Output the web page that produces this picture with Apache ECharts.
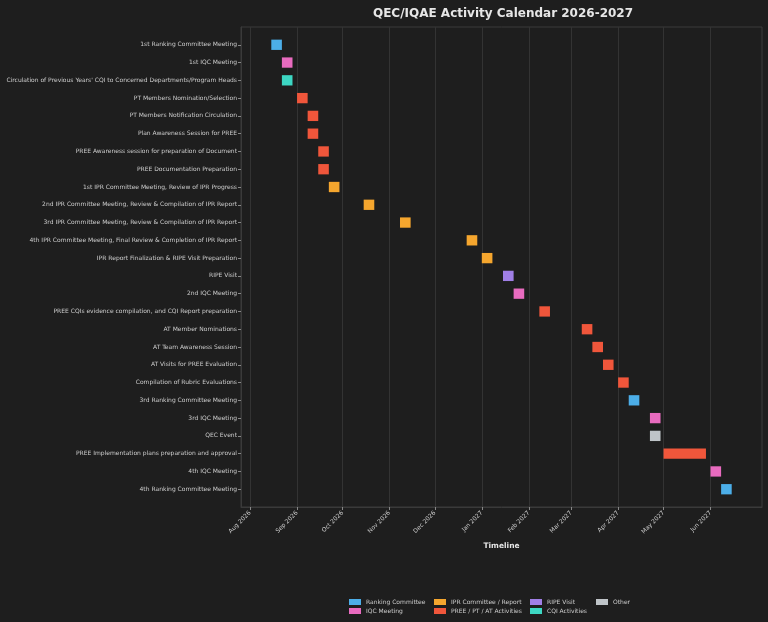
<!DOCTYPE html>
<html>
<head>
<meta charset="utf-8">
<script src="https://cdn.jsdelivr.net/npm/echarts@6/dist/echarts.min.js"></script>
<style>
  html, body { margin: 0; padding: 0; background: #1e1e1e; }
  #chart { width: 768px; height: 622px; }
</style>
</head>
<body>
<div id="chart"></div>
<script>
// activities, top to bottom
const activities = [
  '1st Ranking Committee Meeting',
  '1st IQC Meeting',
  "Circulation of Previous Years' CQI to Concerned Departments/Program Heads",
  'PT Members Nomination/Selection',
  'PT Members Notification Circulation',
  'Plan Awareness Session for PREE',
  'PREE Awareness session for preparation of Document',
  'PREE Documentation Preparation',
  '1st IPR Committee Meeting, Review of IPR Progress',
  '2nd IPR Committee Meeting, Review & Compilation of IPR Report',
  '3rd IPR Committee Meeting, Review & Compilation of IPR Report',
  '4th IPR Committee Meeting, Final Review & Completion of IPR Report',
  'IPR Report Finalization & RIPE Visit Preparation',
  'RIPE Visit',
  '2nd IQC Meeting',
  'PREE CQIs evidence compilation, and CQI Report preparation',
  'AT Member Nominations',
  'AT Team Awareness Session',
  'AT Visits for PREE Evaluation',
  'Compilation of Rubric Evaluations',
  '3rd Ranking Committee Meeting',
  '3rd IQC Meeting',
  'QEC Event',
  'PREE Implementation plans preparation and approval',
  '4th IQC Meeting',
  '4th Ranking Committee Meeting'
];
const startDates = [
  '2026-08-15', '2026-08-22', '2026-08-22', '2026-09-01', '2026-09-08',
  '2026-09-08', '2026-09-15', '2026-09-15', '2026-09-22', '2026-10-15',
  '2026-11-08', '2026-12-22', '2027-01-01', '2027-01-15', '2027-01-22',
  '2027-02-08', '2027-03-08', '2027-03-15', '2027-03-22', '2027-04-01',
  '2027-04-08', '2027-04-22', '2027-04-22', '2027-05-01', '2027-06-01',
  '2027-06-08'
];
const durations = [
  7, 7, 7, 7, 7, 7, 7, 7, 7, 7, 7, 7, 7, 7, 7, 7, 7, 7, 7, 7, 7, 7, 7, 28, 7, 7
];
const activityTypes = [
  'Ranking Committee', 'IQC Meeting', 'CQI Activities', 'PREE / PT / AT Activities',
  'PREE / PT / AT Activities', 'PREE / PT / AT Activities', 'PREE / PT / AT Activities',
  'PREE / PT / AT Activities', 'IPR Committee / Report', 'IPR Committee / Report',
  'IPR Committee / Report', 'IPR Committee / Report', 'IPR Committee / Report',
  'RIPE Visit', 'IQC Meeting', 'PREE / PT / AT Activities', 'PREE / PT / AT Activities',
  'PREE / PT / AT Activities', 'PREE / PT / AT Activities', 'PREE / PT / AT Activities',
  'Ranking Committee', 'IQC Meeting', 'Other', 'PREE / PT / AT Activities',
  'IQC Meeting', 'Ranking Committee'
];
const typeNames = [
  'Ranking Committee', 'IQC Meeting', 'IPR Committee / Report',
  'PREE / PT / AT Activities', 'RIPE Visit', 'CQI Activities', 'Other'
];
const typeColors = ['#4caee8', '#e86bbf', '#f5a62e', '#f0563b', '#a07fe6', '#3dd7c3', '#bfc4c8'];
const monthTicks = [
  '2026-08-01', '2026-09-01', '2026-10-01', '2026-11-01', '2026-12-01', '2027-01-01',
  '2027-02-01', '2027-03-01', '2027-04-01', '2027-05-01', '2027-06-01'
];
const axisMin = '2026-07-26';
const axisMax = '2027-07-05';

const DAY = 86400000;
const toTs = (s) => {
  const p = s.split('-').map(Number);
  return new Date(p[0], p[1] - 1, p[2]).getTime();
};
const MONTHS = ['Jan', 'Feb', 'Mar', 'Apr', 'May', 'Jun', 'Jul', 'Aug', 'Sep', 'Oct', 'Nov', 'Dec'];
const font = 'DejaVu Sans';
const tickTs = monthTicks.map(toTs);
const rowIdx = activities.map((a, i) => i);

let chart = echarts.init(document.getElementById('chart'));

const series = typeNames.map((name, t) => {
  const data = [];
  activities.forEach((a, i) => {
    if (activityTypes[i] !== name) return;
    const s = toTs(startDates[i]);
    data.push([s, s + durations[i] * DAY, i]);
  });
  return {
    name: name,
    type: 'custom',
    itemStyle: { color: typeColors[t] },
    encode: { x: [0, 1], y: 2 },
    renderItem: function(params, api) {
      const a = api.coord([api.value(0), api.value(2)]);
      const b = api.coord([api.value(1), api.value(2)]);
      const h = api.size([0, 0.58])[1];
      return {
        type: 'rect',
        shape: { x: a[0], y: a[1] - h / 2, width: b[0] - a[0], height: h },
        style: api.style()
      };
    },
    data: data
  };
});

const legendCols = [
  { left: 349, items: [typeNames[0], typeNames[1]] },
  { left: 434, items: [typeNames[2], typeNames[3]] },
  { left: 530, items: [typeNames[4], typeNames[5]] },
  { left: 596, items: [typeNames[6]] }
];

chart.setOption({
  backgroundColor: '#1e1e1e',
  animation: false,
  title: {
    text: 'QEC/IQAE Activity Calendar 2026-2027',
    left: 498,
    top: 3,
    textAlign: 'center',
    textStyle: { color: '#e6e6e6', fontFamily: font, fontWeight: 'bold', fontSize: 12 }
  },
  legend: legendCols.map((c) => ({
    orient: 'vertical',
    left: c.left,
    top: 599,
    icon: 'rect',
    itemWidth: 12,
    itemHeight: 6,
    itemGap: 3,
    itemTextGap: 5,
    padding: 0,
    selectedMode: false,
    textStyle: { color: '#cccccc', fontFamily: font, fontSize: 6 },
    data: c.items
  })),
  grid: {
    left: 241,
    right: 6,
    top: 27,
    bottom: 115,
    outerBoundsMode: 'none',
    containLabel: false,
    show: true,
    borderColor: '#3a3a3a',
    borderWidth: 1,
    backgroundColor: '#1e1e1e'
  },
  xAxis: {
    type: 'value',
    min: toTs(axisMin),
    max: toTs(axisMax),
    name: 'Timeline',
    nameLocation: 'middle',
    nameGap: 29,
    nameTextStyle: { color: '#e6e6e6', fontFamily: font, fontWeight: 'bold', fontSize: 7.5 },
    axisLine: { onZero: false, lineStyle: { color: '#3a3a3a' } },
    axisTick: { show: true, length: 3, customValues: tickTs, lineStyle: { color: '#888888' } },
    axisLabel: {
      rotate: 45,
      color: '#cccccc',
      fontFamily: font,
      fontSize: 6,
      margin: 5,
      customValues: tickTs,
      formatter: function(v) {
        const d = new Date(v);
        return MONTHS[d.getMonth()] + ' ' + d.getFullYear();
      }
    },
    splitLine: { show: true, lineStyle: { color: '#333333', width: 1 } }
  },
  yAxis: {
    type: 'value',
    min: -1,
    max: 26,
    interval: 1,
    inverse: true,
    axisLine: { show: true, onZero: false, lineStyle: { color: '#3a3a3a' } },
    axisTick: { show: true, length: 3, customValues: rowIdx, lineStyle: { color: '#888888' } },
    splitLine: { show: false },
    axisLabel: {
      color: '#cccccc',
      fontFamily: font,
      fontSize: 6,
      margin: 4,
      customValues: rowIdx,
      formatter: function(v) {
        return activities[v] || '';
      }
    }
  },
  series: series
});
window.addEventListener('resize', function() {
  chart.resize();
});
</script>
</body>
</html>
